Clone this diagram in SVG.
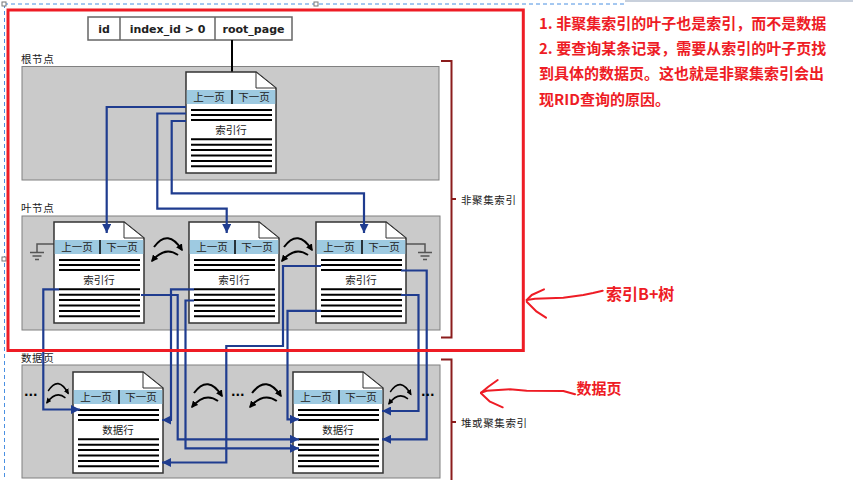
<svg xmlns="http://www.w3.org/2000/svg" width="853" height="480" viewBox="0 0 853 480">
<style>
.sec{fill:#cacaca;stroke:#808080;stroke-width:1}
.page{fill:#fff;stroke:#333;stroke-width:1.5}
.fold{fill:#fff;stroke:#333;stroke-width:1}
.hdr{fill:#9ecae1}
.row{stroke:#000;stroke-width:2}
.t{font-family:"Noto Sans CJK SC","Noto Sans",sans-serif;font-size:10.5px;fill:#222;text-anchor:middle}
.lbl{font-family:"Noto Sans CJK SC","Noto Sans",sans-serif;font-size:10.5px;fill:#222;letter-spacing:0.6px}
.tb{font-family:"DejaVu Sans",sans-serif;font-weight:bold;font-size:11px;fill:#222;text-anchor:middle}
.conn{fill:none;stroke:#1f3c8f;stroke-width:2.2}
.arc{fill:none;stroke:#000;stroke-width:2}
.gnd{fill:none;stroke:#555;stroke-width:1.5}
.brk{fill:none;stroke:#8b1c1c;stroke-width:2}
.red{font-family:"Noto Sans CJK SC","Noto Sans",sans-serif;font-weight:bold;font-size:15px;fill:#ee1c25}
.hand{fill:none;stroke:#ee1c25;stroke-width:2;stroke-linecap:round;stroke-linejoin:round}
.dots{font-family:"DejaVu Sans",sans-serif;font-weight:bold;font-size:12px;fill:#000}
</style>
<defs>
<marker id="ab" viewBox="0 0 10 10" refX="10" refY="5" markerUnits="userSpaceOnUse" markerWidth="9" markerHeight="9" orient="auto"><path d="M0,0 L10,5 L0,10 z" fill="#1f3c8f"/></marker>
<marker id="ak" viewBox="0 0 10 10" refX="8" refY="5" markerUnits="userSpaceOnUse" markerWidth="7" markerHeight="7" orient="auto"><path d="M0,0 L10,5 L0,10 z" fill="#000"/></marker>
<g id="pg">
<path class="page" d="M0,0 H70 L90,16 V101 H0 Z"/>
<path class="fold" d="M70,0 V16 H90 Z"/>
<rect class="hdr" x="0.75" y="18" width="88.5" height="14"/>
<line x1="46" y1="18" x2="46" y2="32" stroke="#000" stroke-width="1.5"/>
<path class="row" d="M5,38 H86 M5,43 H86 M5,48 H86 M5,67.3 H86 M5,72.7 H86 M5,78.1 H86 M5,83.5 H86 M5,88.9 H86 M5,94.3 H86"/>
</g>
<g id="swap">
<path class="arc" d="M3,13 Q17,-6 31,16" marker-end="url(#ak)"/>
<path class="arc" d="M27,21 Q14,11.6 1,27" marker-end="url(#ak)"/>
</g>
</defs>
<rect width="853" height="480" fill="#fff"/>
<g id="selection">
<line x1="4" y1="4" x2="625" y2="4" stroke="#4a90e2" stroke-width="1" stroke-dasharray="4,3"/>
<line x1="4.5" y1="4" x2="4.5" y2="480" stroke="#4a90e2" stroke-width="1" stroke-dasharray="4,3"/>
<line x1="625" y1="1" x2="853" y2="1" stroke="#c8d0dc" stroke-width="2"/>
<rect x="2" y="2" width="4" height="4" fill="#fff" stroke="#777" stroke-width="1"/>
<rect x="314" y="2" width="4" height="4" fill="#fff" stroke="#777" stroke-width="1"/>
<rect x="2" y="257" width="4" height="4" fill="#fff" stroke="#777" stroke-width="1"/>
</g>
<g id="sections">
<rect class="sec" x="22" y="66.5" width="417" height="113.5"/>
<text class="lbl" x="21" y="63">根节点</text>
<rect class="sec" x="22" y="216" width="418" height="114"/>
<text class="lbl" x="21" y="212">叶节点</text>
<rect class="sec" x="22" y="365" width="418" height="113"/>
<text class="lbl" x="21" y="362">数据页</text>
</g>
<g id="table">
<rect x="88" y="17" width="204" height="23" fill="#fff" stroke="#666" stroke-width="1.5"/>
<line x1="120" y1="17" x2="120" y2="40" stroke="#666" stroke-width="1.5"/>
<line x1="215" y1="17" x2="215" y2="40" stroke="#666" stroke-width="1.5"/>
<text class="tb" x="104" y="33">id</text>
<text class="tb" x="167.5" y="33">index_id &gt; 0</text>
<text class="tb" x="253.5" y="33">root_page</text>
<line x1="232" y1="40" x2="232" y2="72" stroke="#000" stroke-width="2"/>
</g>
<g id="grounds">
<path class="gnd" d="M54,244 H37 V252 M30,252.5 H44 M32.5,256 H41.5 M35,259.5 H39"/>
<path class="gnd" d="M406,244 H425 V252 M418,252.5 H432 M420.5,256 H429.5 M423,259.5 H427"/>
</g>
<g id="root" transform="translate(186,72)">
<use href="#pg"/>
<text class="t" x="23" y="29">上一页</text><text class="t" x="68" y="29">下一页</text>
<text class="t" x="45" y="62">索引行</text>
</g>
<g id="leaf1" transform="translate(54,222)">
<use href="#pg"/>
<text class="t" x="23" y="29">上一页</text><text class="t" x="68" y="29">下一页</text>
<text class="t" x="45" y="62">索引行</text>
</g>
<g id="leaf2" transform="translate(189,222)">
<use href="#pg"/>
<text class="t" x="23" y="29">上一页</text><text class="t" x="68" y="29">下一页</text>
<text class="t" x="45" y="62">索引行</text>
</g>
<g id="leaf3" transform="translate(316,222)">
<use href="#pg"/>
<text class="t" x="23" y="29">上一页</text><text class="t" x="68" y="29">下一页</text>
<text class="t" x="45" y="62">索引行</text>
</g>
<g id="data1" transform="translate(73,372)">
<use href="#pg"/>
<text class="t" x="23" y="29">上一页</text><text class="t" x="68" y="29">下一页</text>
<text class="t" x="45" y="62">数据行</text>
</g>
<g id="data2" transform="translate(293,372)">
<use href="#pg"/>
<text class="t" x="23" y="29">上一页</text><text class="t" x="68" y="29">下一页</text>
<text class="t" x="45" y="62">数据行</text>
</g>
<g id="connectors">
<path class="conn" d="M186,107 H106.7 V233" marker-end="url(#ab)"/>
<path class="conn" d="M186,113.5 H157.3 V208.7 H226.7 V233" marker-end="url(#ab)"/>
<path class="conn" d="M186,121 H171.7 V193.3 H364 V233" marker-end="url(#ab)"/>
<path class="conn" d="M59,289.3 H43.3 V409.5 H80" marker-end="url(#ab)"/>
<path class="conn" d="M141,295 H177.7 V439.3 H299" marker-end="url(#ab)"/>
<path class="conn" d="M194,289.3 H171 V420 H162" marker-end="url(#ab)"/>
<path class="conn" d="M194,300.5 H185.5 V448.3 H299" marker-end="url(#ab)"/>
<path class="conn" d="M321,266 H283 V346 H226.3 V462.5 H162" marker-end="url(#ab)"/>
<path class="conn" d="M321,310.9 H287.5 V419.3 H299" marker-end="url(#ab)"/>
<path class="conn" d="M401,270.5 H426.7 V439.3 H382" marker-end="url(#ab)"/>
<path class="conn" d="M401,295 H418.5 V411 H382" marker-end="url(#ab)"/>
</g>
<g id="links">
<use href="#swap" transform="translate(151,234)"/>
<use href="#swap" transform="translate(281,234)"/>
<use href="#swap" transform="translate(46,380) scale(0.72,0.85)"/>
<use href="#swap" transform="translate(191,380)"/>
<use href="#swap" transform="translate(249,380) scale(1.03,1)"/>
<use href="#swap" transform="translate(388,381) scale(0.74,0.85)"/>
<text class="dots" x="24" y="396">...</text>
<text class="dots" x="231" y="396">...</text>
<text class="dots" x="421" y="396">...</text>
</g>
<g id="brackets">
<path class="brk" d="M441,61 H451.5 V337.5 H441 M451.5,199 H456"/>
<path class="brk" d="M441,359.5 H451.5 V482 M451.5,422 H456"/>
<text class="lbl" x="461" y="204">非聚集索引</text>
<text class="lbl" x="461" y="426.5">堆或聚集索引</text>
</g>
<rect id="btree-box" x="8" y="10" width="515.3" height="340.5" fill="none" stroke="#ee1c25" stroke-width="3"/>
<g id="notes">
<text class="red" x="539" y="28.5">1. 非聚集索引的叶子也是索引，而不是数据</text>
<text class="red" x="539" y="54">2. 要查询某条记录，需要从索引的叶子页找</text>
<text class="red" x="539" y="79">到具体的数据页。这也就是非聚集索引会出</text>
<text class="red" x="539" y="104.5">现RID查询的原因。</text>
</g>
<g id="callout-btree">
<path class="hand" d="M602.7,290.7 L593,293 L583.3,295 L563.3,297.7 L535,298.7 L526.7,300"/>
<path class="hand" d="M526.7,300 L531.7,295 L544,289.3"/>
<path class="hand" d="M526.7,301.7 L536.7,311.7 L546,317.7"/>
<text class="red" x="606" y="300" style="font-size:16px">索引B+树</text>
</g>
<g id="callout-data">
<path class="hand" d="M575,394.3 L563.3,391 L526.7,390.7 L510,389.3 L486.7,390.7 L481,392.7"/>
<path class="hand" d="M481,392.7 L488.3,386.7 L497.7,380"/>
<path class="hand" d="M481,393.3 L490,401.7 L502.7,407.3"/>
<text class="red" x="576.5" y="394">数据页</text>
</g>
</svg>
